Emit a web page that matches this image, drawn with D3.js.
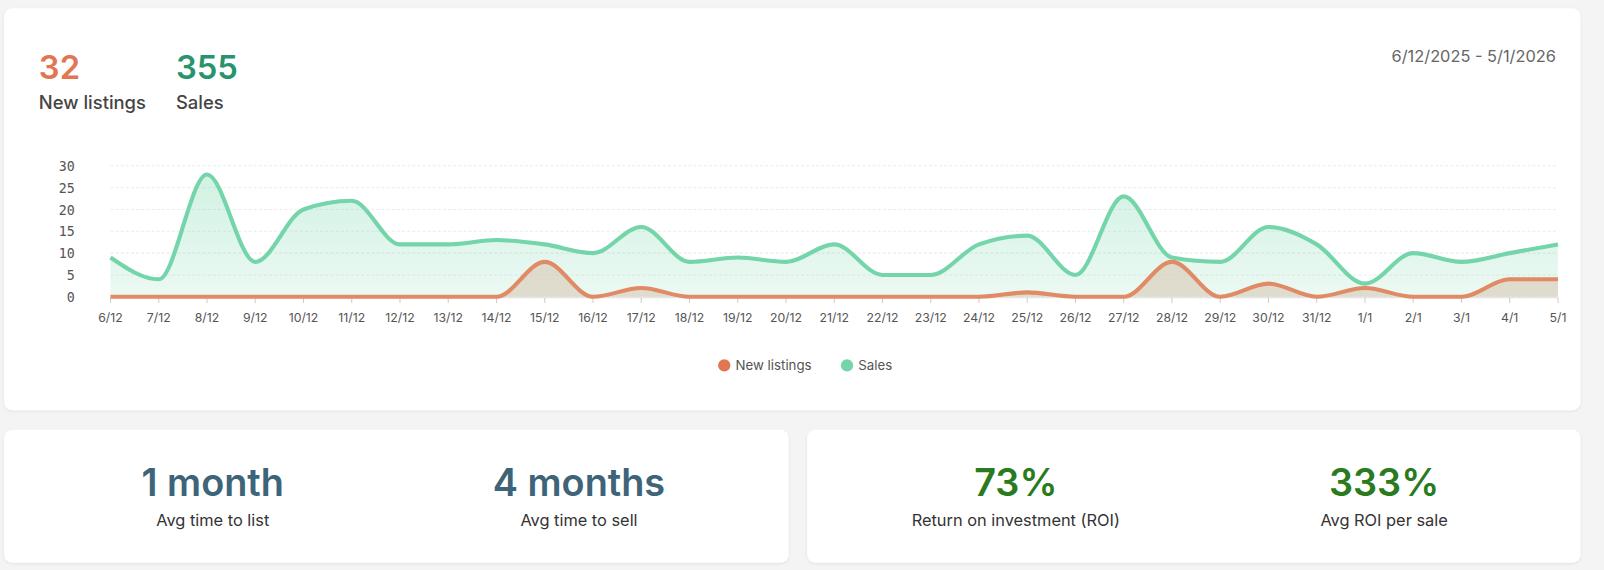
<!DOCTYPE html><html><head><meta charset="utf-8">
<script src="https://cdn.jsdelivr.net/npm/d3@7"></script>
<style>
body{margin:0;background:#f4f4f4;font-family:Inter,"Noto Sans",sans-serif;}
svg{display:block}
</style></head><body><svg id="c" width="1604" height="570" viewBox="0 0 1568 557"></svg>
<script>
const categories=["6/12","7/12","8/12","9/12","10/12","11/12","12/12","13/12","14/12","15/12","16/12","17/12","18/12","19/12","20/12","21/12","22/12","23/12","24/12","25/12","26/12","27/12","28/12","29/12","30/12","31/12","1/1","2/1","3/1","4/1","5/1"];
const sales=[9,4,28,8,20,22,12,12,13,12,10,16,8,9,8,12,5,5,12,14,5,23,9,8,16,12,3,10,8,10,12];
const newListings=[0,0,0,0,0,0,0,0,0,8,0,2,0,0,0,0,0,0,0,1,0,0,8,0,3,0,2,0,0,4,4];
const yTicks=[0,5,10,15,20,25,30];
const stats=[["1 month","Avg time to list","#3d6478"],["4 months","Avg time to sell","#3d6478"],["73%","Return on investment (ROI)","#2a7a1e"],["333%","Avg ROI per sale","#2a7a1e"]];

const svg=d3.select("#c");
const defs=svg.append("defs");
const f=defs.append("filter").attr("id","sh").attr("x","-5%").attr("y","-5%").attr("width","110%").attr("height","110%");
f.append("feDropShadow").attr("dx",0).attr("dy",1).attr("stdDeviation",1.5).attr("flood-color","#000").attr("flood-opacity",0.08);
[[4,8,1541,393],[4,420,767,130],[789,420,756,130]].forEach(([x,y,w,h])=>svg.append("rect").attr("x",x).attr("y",y).attr("width",w).attr("height",h).attr("rx",8).attr("fill","#fff").attr("filter","url(#sh)"));

svg.append("text").attr("x",38).attr("y",77).attr("font-size",32).attr("font-weight",600).attr("fill","#e07752").text("32");
svg.append("text").attr("x",38).attr("y",106).attr("font-size",18).attr("font-weight",500).attr("fill","#444").text("New listings");
svg.append("text").attr("x",172).attr("y",77).attr("font-size",32).attr("font-weight",600).attr("fill","#27946e").text("355");
svg.append("text").attr("x",172).attr("y",106).attr("font-size",18).attr("font-weight",500).attr("fill","#444").text("Sales");
svg.append("text").attr("x",1521).attr("y",61).attr("text-anchor","end").attr("font-size",16).attr("fill","#666").text("6/12/2025 - 5/1/2026");

const x=d3.scalePoint().domain(categories).range([108,1523]);
const y=d3.scaleLinear().domain([0,30]).range([290,162]);
const g=svg.append("g");
yTicks.forEach(t=>{
  g.append("line").attr("x1",108).attr("x2",1523).attr("y1",y(t)).attr("y2",y(t)).attr("stroke","#ececec").attr("stroke-dasharray","3,2");
  g.append("text").attr("x",73).attr("y",y(t)+5).attr("text-anchor","end").attr("font-family","DejaVu Sans Mono").attr("font-size",13).attr("fill","#555").text(t);
});
g.append("line").attr("x1",108).attr("x2",1523).attr("y1",291).attr("y2",291).attr("stroke","#ddd");
categories.forEach(c=>{
  g.append("line").attr("x1",x(c)).attr("x2",x(c)).attr("y1",291).attr("y2",296).attr("stroke","#ccc");
  g.append("text").attr("x",x(c)).attr("y",315).attr("text-anchor","middle").attr("font-size",12).attr("fill","#555").text(c);
});
const gs=defs.append("linearGradient").attr("id","gs").attr("x1",0).attr("x2",0).attr("y1",0).attr("y2",1);
gs.append("stop").attr("offset",0).attr("stop-color","#7dd8b0").attr("stop-opacity",0.35);
gs.append("stop").attr("offset",1).attr("stop-color","#7dd8b0").attr("stop-opacity",0.15);
const curve=d3.curveMonotoneX;
const area=d3.area().x((d,i)=>x(categories[i])).y0(y(0)).y1(d=>y(d)).curve(curve);
const line=d3.line().x((d,i)=>x(categories[i])).y(d=>y(d)).curve(curve);
g.append("path").attr("d",area(sales)).attr("fill","url(#gs)");
g.append("path").attr("d",area(newListings)).attr("fill","#d9c8b4").attr("opacity",0.6);
g.append("path").attr("d",line(sales)).attr("fill","none").attr("stroke","#74d4aa").attr("stroke-width",4);
g.append("path").attr("d",line(newListings)).attr("fill","none").attr("stroke","#e08a66").attr("stroke-width",4);

[["New listings","#e07752",708],["Sales","#74d4aa",828]].forEach(([t,c,lx])=>{
  svg.append("circle").attr("cx",lx).attr("cy",357).attr("r",6).attr("fill",c);
  svg.append("text").attr("x",lx+11).attr("y",362).attr("font-size",13).attr("fill","#555").text(t);
});

const sx=[208,566,993,1353];
stats.forEach(([v,l,c],i)=>{
  svg.append("text").attr("x",sx[i]).attr("y",485).attr("text-anchor","middle").attr("font-size",37).attr("font-weight",600).attr("fill",c).text(v);
  svg.append("text").attr("x",sx[i]).attr("y",514).attr("text-anchor","middle").attr("font-size",16).attr("fill","#333").text(l);
});
</script></body></html>
